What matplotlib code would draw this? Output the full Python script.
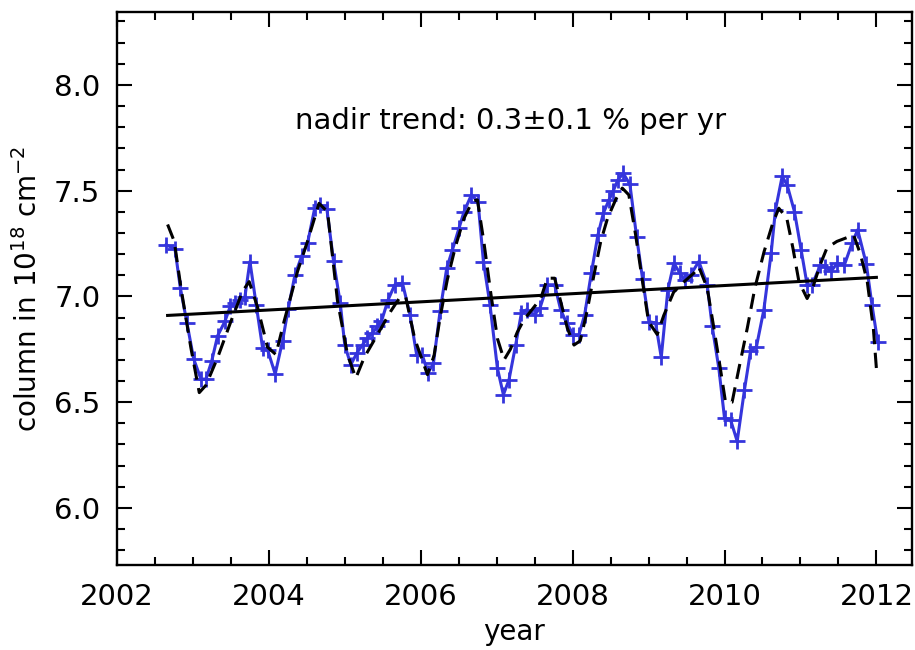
import matplotlib
matplotlib.use("Agg")
import matplotlib.pyplot as plt
from matplotlib.ticker import MultipleLocator

# nadir column, monthly means (decimal year, 10^18 cm^-2)
nadir_years = [
    2002.645, 2002.763, 2002.833, 2002.921, 2003.009, 2003.105, 2003.171, 2003.246,
    2003.325, 2003.421, 2003.491, 2003.557, 2003.623, 2003.684, 2003.750, 2003.833,
    2003.917, 2003.982, 2004.083, 2004.180, 2004.254, 2004.342, 2004.430, 2004.509,
    2004.605, 2004.675, 2004.763, 2004.851, 2004.939, 2005.000, 2005.079, 2005.158,
    2005.233, 2005.298, 2005.364, 2005.430, 2005.482, 2005.570, 2005.658, 2005.759,
    2005.859, 2005.947, 2006.022, 2006.096, 2006.167, 2006.254, 2006.342, 2006.417,
    2006.504, 2006.570, 2006.667, 2006.754, 2006.825, 2006.912, 2007.009, 2007.088,
    2007.162, 2007.250, 2007.325, 2007.395, 2007.500, 2007.570, 2007.667, 2007.763,
    2007.842, 2007.921, 2008.009, 2008.083, 2008.158, 2008.246, 2008.333, 2008.404,
    2008.478, 2008.535, 2008.596, 2008.667, 2008.754, 2008.842, 2008.921, 2009.004,
    2009.092, 2009.167, 2009.254, 2009.333, 2009.412, 2009.474, 2009.553, 2009.662,
    2009.772, 2009.838, 2009.925, 2010.000, 2010.079, 2010.167, 2010.263, 2010.342,
    2010.421, 2010.518, 2010.614, 2010.671, 2010.759, 2010.825, 2010.921, 2011.009,
    2011.088, 2011.154, 2011.263, 2011.329, 2011.404, 2011.482, 2011.579, 2011.680,
    2011.754, 2011.868, 2011.943, 2012.018,
]
nadir_values = [
    7.244, 7.225, 7.042, 6.874, 6.705, 6.609, 6.609, 6.693,
    6.814, 6.882, 6.953, 6.968, 6.984, 6.997, 7.165, 6.960,
    6.756, 6.748, 6.633, 6.790, 6.940, 7.100, 7.189, 7.252,
    7.420, 7.433, 7.414, 7.168, 6.970, 6.768, 6.677, 6.732,
    6.771, 6.803, 6.827, 6.858, 6.882, 6.984, 7.055, 7.063,
    6.913, 6.721, 6.721, 6.638, 6.685, 6.929, 7.134, 7.220,
    7.323, 7.401, 7.480, 7.448, 7.165, 6.960, 6.661, 6.535,
    6.606, 6.771, 6.921, 6.937, 6.913, 6.945, 7.055, 7.055,
    6.937, 6.874, 6.819, 6.819, 6.913, 7.110, 7.291, 7.393,
    7.456, 7.499, 7.551, 7.582, 7.530, 7.283, 7.083, 6.881,
    6.874, 6.712, 7.031, 7.157, 7.110, 7.078, 7.102, 7.165,
    7.055, 6.858, 6.661, 6.425, 6.417, 6.315, 6.559, 6.740,
    6.763, 6.937, 7.204, 7.409, 7.567, 7.527, 7.401, 7.220,
    7.055, 7.055, 7.149, 7.141, 7.118, 7.157, 7.149, 7.252,
    7.315, 7.152, 6.957, 6.784,
]

# model (dashed)
model_years = [
    2002.666, 2002.754, 2002.842, 2002.973, 2003.083, 2003.171, 2003.324, 2003.500,
    2003.653, 2003.740, 2003.850, 2003.982, 2004.092, 2004.200, 2004.377, 2004.508,
    2004.660, 2004.772, 2004.903, 2005.035, 2005.145, 2005.254, 2005.430, 2005.605,
    2005.715, 2005.800, 2005.920, 2006.088, 2006.175, 2006.254, 2006.350, 2006.460,
    2006.570, 2006.680, 2006.746, 2006.830, 2006.920, 2007.010, 2007.097, 2007.180,
    2007.270, 2007.360, 2007.470, 2007.580, 2007.667, 2007.763, 2007.840, 2007.930,
    2008.018, 2008.100, 2008.190, 2008.280, 2008.370, 2008.460, 2008.570, 2008.654,
    2008.740, 2008.830, 2008.920, 2009.000, 2009.114, 2009.200, 2009.330, 2009.470,
    2009.596, 2009.662, 2009.772, 2009.860, 2009.945, 2010.013, 2010.100, 2010.190,
    2010.300, 2010.400, 2010.520, 2010.630, 2010.715, 2010.820, 2010.900, 2010.980,
    2011.088, 2011.170, 2011.260, 2011.350, 2011.480, 2011.590, 2011.700, 2011.790,
    2011.880, 2011.960, 2012.000,
]
model_values = [
    7.340, 7.260, 7.040, 6.756, 6.545, 6.580, 6.710, 6.882,
    7.024, 7.070, 6.950, 6.760, 6.725, 6.882, 7.118, 7.260,
    7.440, 7.400, 6.980, 6.725, 6.614, 6.710, 6.820, 6.930,
    6.990, 7.000, 6.800, 6.630, 6.720, 6.900, 7.080, 7.240,
    7.370, 7.450, 7.456, 7.260, 7.020, 6.800, 6.700, 6.750,
    6.830, 6.890, 6.940, 6.990, 7.086, 7.086, 6.980, 6.850,
    6.770, 6.790, 6.930, 7.100, 7.260, 7.370, 7.460, 7.512,
    7.480, 7.290, 7.070, 6.880, 6.820, 6.910, 7.020, 7.070,
    7.110, 7.140, 7.040, 6.850, 6.660, 6.500, 6.500, 6.660,
    6.850, 7.040, 7.210, 7.340, 7.417, 7.370, 7.230, 7.070,
    6.990, 7.050, 7.150, 7.230, 7.260, 7.275, 7.290, 7.200,
    7.070, 6.850, 6.660,
]

# linear trend
trend_years = [2002.666, 2012.0]
trend_values = [6.91, 7.09]

plt.rcParams['font.family'] = ['DejaVu Sans']

fig = plt.figure(figsize=(9.15, 6.5), dpi=100)
ax = fig.add_axes([0.1279, 0.1308, 0.8689, 0.8508])

ax.plot(nadir_years, nadir_values, color='#3535dc', lw=2.2, marker='+',
        ms=12, mew=2.0, zorder=3)
ax.plot(model_years, model_values, color='black', lw=2.2, ls=(0, (5, 2.8)), zorder=4)
ax.plot(trend_years, trend_values, color='black', lw=2.2, zorder=5)

ax.text(2007.18, 7.83, 'nadir trend: 0.3±0.1 % per yr', fontsize=21,
        ha='center', va='center')

ax.set_xlim(2002, 2012.47)
ax.set_ylim(5.73, 8.345)
ax.xaxis.set_major_locator(MultipleLocator(2))
ax.xaxis.set_minor_locator(MultipleLocator(0.5))
ax.yaxis.set_major_locator(MultipleLocator(0.5))
ax.yaxis.set_minor_locator(MultipleLocator(0.1))
ax.xaxis.set_major_formatter(matplotlib.ticker.FormatStrFormatter('%d'))
ax.yaxis.set_major_formatter(matplotlib.ticker.FormatStrFormatter('%.1f'))

ax.tick_params(which='both', direction='in', top=True, right=True, width=1.5,
               labelsize=21)
ax.tick_params(which='major', length=11)
ax.tick_params(which='minor', length=5.5)
ax.tick_params(axis='x', pad=13)
ax.tick_params(axis='y', pad=12)
for s in ax.spines.values():
    s.set_linewidth(1.7)

ax.set_xlabel('year', fontsize=20, labelpad=5)
ax.set_ylabel('column in 10$^{18}$ cm$^{-2}$', fontsize=20, labelpad=8)

fig.savefig('out.png', dpi=100)
